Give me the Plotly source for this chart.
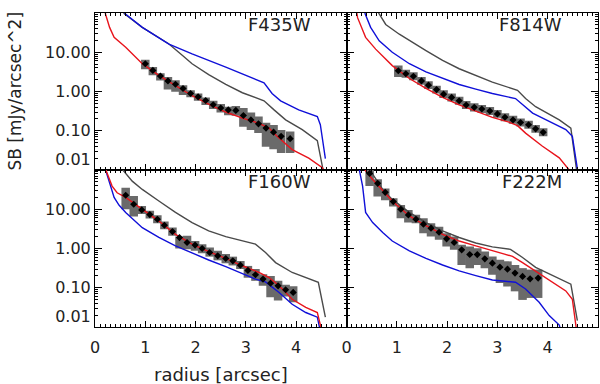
import plotly.graph_objects as go
from plotly.subplots import make_subplots

# radii of the measured points (arcsec)
r_435 = [1.0, 1.15, 1.3, 1.45, 1.6, 1.75, 1.9, 2.05, 2.2, 2.35, 2.5, 2.65, 2.8, 2.95, 3.1, 3.25, 3.4, 3.55, 3.7, 3.88]
r_814 = [1.03, 1.18, 1.33, 1.49, 1.63, 1.79, 1.93, 2.09, 2.24, 2.38, 2.54, 2.69, 2.85, 3.0, 3.15, 3.31, 3.46, 3.62, 3.76, 3.91]
r_160 = [0.61, 0.77, 0.93, 1.09, 1.24, 1.38, 1.54, 1.68, 1.83, 1.99, 2.13, 2.28, 2.44, 2.6, 2.74, 2.89, 3.04, 3.19, 3.34, 3.49, 3.64, 3.79, 3.94]
r_222 = [0.46, 0.62, 0.77, 0.93, 1.08, 1.23, 1.38, 1.53, 1.68, 1.84, 1.99, 2.14, 2.29, 2.45, 2.6, 2.75, 2.9, 3.05, 3.2, 3.35, 3.5, 3.65, 3.81]

# measured surface brightness with box limits (mJy/arcsec^2)
sb_435 = [5.08, 3.45, 2.48, 1.86, 1.53, 1.19, 0.89, 0.73, 0.59, 0.46, 0.38, 0.34, 0.33, 0.244, 0.189, 0.150, 0.117, 0.092, 0.072, 0.063]
hi_435 = [6.4, 4.2, 2.9, 2.34, 1.93, 1.44, 1.08, 0.89, 0.70, 0.58, 0.48, 0.41, 0.43, 0.38, 0.29, 0.23, 0.16, 0.14, 0.105, 0.096]
lo_435 = [3.7, 2.6, 1.9, 1.12, 0.98, 0.81, 0.71, 0.58, 0.45, 0.36, 0.29, 0.25, 0.24, 0.126, 0.105, 0.087, 0.039, 0.034, 0.027, 0.027]

sb_814 = [3.38, 2.84, 2.44, 1.86, 1.45, 1.12, 0.857, 0.706, 0.582, 0.452, 0.395, 0.359, 0.319, 0.268, 0.221, 0.189, 0.162, 0.142, 0.112, 0.091]
hi_814 = [4.6, 3.6, 3.1, 2.35, 1.83, 1.41, 1.08, 0.89, 0.73, 0.57, 0.50, 0.45, 0.40, 0.34, 0.28, 0.24, 0.205, 0.18, 0.141, 0.115]
lo_814 = [2.35, 2.25, 1.94, 1.48, 1.15, 0.89, 0.68, 0.56, 0.46, 0.36, 0.31, 0.285, 0.253, 0.213, 0.175, 0.15, 0.129, 0.113, 0.089, 0.072]

sb_160 = [22.7, 13.4, 9.6, 7.3, 5.57, 3.92, 2.70, 1.90, 1.42, 1.22, 1.0, 0.79, 0.65, 0.557, 0.486, 0.377, 0.276, 0.214, 0.166, 0.131, 0.112, 0.089, 0.076]
hi_160 = [35.5, 21.8, 12.1, 9.2, 7.0, 4.9, 3.42, 2.02, 2.1, 1.56, 1.29, 1.06, 0.87, 0.72, 0.62, 0.48, 0.36, 0.30, 0.22, 0.20, 0.15, 0.12, 0.11]
lo_160 = [10.0, 6.5, 7.6, 5.8, 4.4, 3.1, 2.1, 1.0, 0.96, 0.87, 0.76, 0.62, 0.50, 0.42, 0.37, 0.30, 0.18, 0.15, 0.112, 0.057, 0.047, 0.06, 0.043]

sb_222 = [82, 45.8, 27.0, 15.7, 10.0, 7.18, 5.57, 4.16, 3.29, 2.60, 1.76, 1.42, 0.925, 0.704, 0.70, 0.546, 0.424, 0.335, 0.298, 0.236, 0.194, 0.169, 0.176]
hi_222 = [150, 58, 34, 19, 12.9, 9.6, 7.2, 5.9, 4.4, 3.6, 2.45, 2.02, 1.24, 1.12, 1.02, 0.84, 0.63, 0.52, 0.47, 0.38, 0.316, 0.29, 0.29]
lo_222 = [39, 21, 17, 11.7, 5.9, 4.58, 4.4, 2.45, 2.02, 1.66, 1.12, 0.93, 0.38, 0.316, 0.38, 0.316, 0.214, 0.133, 0.108, 0.081, 0.049, 0.055, 0.055]

# model profiles: red, blue, gray
red_435_r = [0.18, 0.21, 0.29, 0.38, 0.61, 0.94, 1.27, 1.60, 1.93, 2.26, 2.60, 2.93, 3.26, 3.46, 3.62, 3.92, 4.25, 4.52, 4.56]
red_435_sb = [150, 93, 43, 24, 13.4, 5.1, 2.58, 1.44, 0.78, 0.48, 0.30, 0.21, 0.155, 0.117, 0.072, 0.033, 0.020, 0.0115, 0.009]
blue_435_r = [0.55, 0.60, 0.94, 1.47, 1.93, 2.60, 3.36, 3.52, 3.69, 4.05, 4.42, 4.48, 4.58]
blue_435_sb = [130, 96, 43, 16.2, 9.1, 4.2, 1.66, 0.89, 0.58, 0.34, 0.23, 0.142, 0.0195]
gray_435_r = [0.55, 0.58, 0.94, 1.47, 1.74, 1.93, 2.26, 2.60, 2.93, 3.36, 3.56, 3.79, 4.12, 4.42, 4.53, 4.56]
gray_435_sb = [130, 96, 43, 16.2, 8.3, 5.1, 2.7, 1.52, 0.93, 0.58, 0.34, 0.19, 0.107, 0.056, 0.0107, 0.008]

red_814_r = [0.18, 0.22, 0.38, 0.58, 0.91, 1.25, 1.58, 1.91, 2.24, 2.57, 2.90, 3.23, 3.40, 3.56, 3.89, 4.23, 4.42, 4.46]
red_814_sb = [158, 76, 24, 12, 4.57, 2.14, 1.2, 0.71, 0.457, 0.309, 0.219, 0.166, 0.135, 0.087, 0.041, 0.0204, 0.0107, 0.0089]
blue_814_r = [0.35, 0.37, 0.48, 0.65, 0.91, 1.25, 1.58, 1.91, 2.24, 2.57, 2.90, 3.36, 3.50, 3.70, 4.03, 4.36, 4.49, 4.59]
blue_814_sb = [158, 95, 43, 19.5, 10, 5.1, 3.16, 2.14, 1.51, 1.15, 0.89, 0.66, 0.457, 0.282, 0.174, 0.107, 0.072, 0.0107]
gray_814_r = [0.6, 0.65, 0.78, 1.05, 1.58, 1.91, 2.24, 2.57, 2.90, 3.40, 3.56, 3.76, 4.23, 4.46, 4.56, 4.58]
gray_814_sb = [126, 95, 51, 28.8, 11, 6.2, 3.8, 2.57, 1.74, 1.07, 0.66, 0.41, 0.19, 0.117, 0.0117, 0.0089]

red_160_r = [0.19, 0.21, 0.34, 0.44, 0.61, 0.94, 1.27, 1.60, 1.93, 2.26, 2.60, 2.93, 3.26, 3.46, 3.66, 3.92, 4.19, 4.42, 4.48, 4.50]
red_160_sb = [158, 105, 39, 26.3, 20, 10, 5.0, 2.29, 1.29, 0.83, 0.56, 0.363, 0.245, 0.182, 0.112, 0.051, 0.0316, 0.0234, 0.0112, 0.0089]
blue_160_r = [0.21, 0.23, 0.31, 0.38, 0.48, 0.61, 0.94, 1.27, 1.60, 1.93, 2.26, 2.60, 2.93, 3.19, 3.39, 3.66, 3.92, 4.19, 4.42, 4.45, 4.47]
blue_160_sb = [126, 83, 39, 20, 12.6, 8.3, 3.39, 1.91, 1.17, 0.76, 0.51, 0.347, 0.234, 0.166, 0.141, 0.076, 0.038, 0.0234, 0.0178, 0.0112, 0.0089]
gray_160_r = [0.5, 0.54, 0.74, 0.94, 1.27, 1.60, 1.93, 2.26, 2.60, 2.93, 3.19, 3.39, 3.59, 3.92, 4.25, 4.44, 4.58]
gray_160_sb = [126, 105, 52, 32, 16.2, 8.3, 4.57, 2.82, 2.0, 1.55, 1.29, 0.79, 0.437, 0.245, 0.166, 0.138, 0.0178]

red_222_r = [0.32, 0.35, 0.52, 0.72, 0.91, 1.25, 1.58, 1.91, 2.24, 2.57, 2.90, 3.30, 3.50, 3.70, 4.03, 4.36, 4.49, 4.56, 4.57]
red_222_sb = [158, 107, 57.5, 29.5, 16.2, 6.76, 3.8, 2.29, 1.55, 1.17, 0.87, 0.63, 0.437, 0.295, 0.151, 0.083, 0.051, 0.0112, 0.0089]
blue_222_r = [0.24, 0.25, 0.32, 0.38, 0.52, 0.72, 0.91, 1.25, 1.58, 1.91, 2.24, 2.57, 2.90, 3.36, 3.56, 3.83, 4.03, 4.23, 4.25]
blue_222_sb = [126, 107, 39, 8.3, 4.57, 2.57, 1.55, 0.87, 0.56, 0.38, 0.269, 0.204, 0.158, 0.138, 0.093, 0.0427, 0.0195, 0.0112, 0.0089]
gray_222_r = [0.42, 0.45, 0.72, 0.91, 1.25, 1.58, 1.91, 2.24, 2.57, 2.90, 3.26, 3.50, 3.76, 4.09, 4.46, 4.59]
gray_222_sb = [158, 107, 32, 17.8, 8.3, 4.57, 2.82, 1.91, 1.38, 1.10, 0.95, 0.59, 0.331, 0.204, 0.123, 0.0145]

filters = ['F435W', 'F814W', 'F160W', 'F222M']
ytickvals = [0.01, 0.1, 1, 10]
yticktext = ['0.01<br> ', '0.10', '1.00', '10.00']
xtickvals = [0, 1, 2, 3, 4]

RED = '#e8141c'
BLUE = '#1010d8'
GRAY = '#4a4a4a'
BOX = '#6a6a6a'
FONT = 'DejaVu Sans'

panels = [
    (1, 1, r_435, sb_435, lo_435, hi_435, (red_435_r, red_435_sb), (blue_435_r, blue_435_sb), (gray_435_r, gray_435_sb)),
    (1, 2, r_814, sb_814, lo_814, hi_814, (red_814_r, red_814_sb), (blue_814_r, blue_814_sb), (gray_814_r, gray_814_sb)),
    (2, 1, r_160, sb_160, lo_160, hi_160, (red_160_r, red_160_sb), (blue_160_r, blue_160_sb), (gray_160_r, gray_160_sb)),
    (2, 2, r_222, sb_222, lo_222, hi_222, (red_222_r, red_222_sb), (blue_222_r, blue_222_sb), (gray_222_r, gray_222_sb)),
]

fig = make_subplots(rows=2, cols=2, horizontal_spacing=0, vertical_spacing=0)

for row, col, r, sb, lo, hi, red, blue, gray in panels:
    # gray boxes as thick error bars
    fig.add_trace(go.Scatter(
        x=r, y=sb, mode='markers', marker=dict(size=1, opacity=0),
        error_y=dict(type='data', symmetric=False,
                     array=[h - s for h, s in zip(hi, sb)],
                     arrayminus=[s - l for s, l in zip(sb, lo)],
                     thickness=8.5, width=0, color=BOX),
        showlegend=False, hoverinfo='skip'), row=row, col=col)
    for (cr, csb), c in [(gray, GRAY), (blue, BLUE), (red, RED)]:
        fig.add_trace(go.Scatter(x=cr, y=csb, mode='lines', line=dict(color=c, width=1.4),
                                 showlegend=False), row=row, col=col)
    fig.add_trace(go.Scatter(x=r, y=sb, mode='markers',
                             marker=dict(symbol='diamond', size=5.5, color='black'),
                             showlegend=False), row=row, col=col)

axis_common = dict(showline=True, linecolor='black', linewidth=1, mirror='ticks',
                   ticks='inside', tickcolor='black', showgrid=False, zeroline=False,
                   tickfont=dict(family=FONT, size=16, color='#222'))

for i in range(1, 5):
    row = 1 if i <= 2 else 2
    col = 1 if i % 2 == 1 else 2
    fig.update_xaxes(range=[0, 5], tickvals=xtickvals, ticklen=6, ticklabelstandoff=6,
                     minor=dict(ticks='inside', ticklen=3, dtick=0.1, tickcolor='black', showgrid=False),
                     showticklabels=(row == 2), **axis_common, row=row, col=col)
    fig.update_yaxes(type='log', range=[-2, 2], tickvals=ytickvals, ticktext=yticktext, ticklen=7,
                     minor=dict(ticks='inside', ticklen=3, dtick='D1', tickcolor='black', showgrid=False),
                     showticklabels=(col == 1), **axis_common, row=row, col=col)

annotations = []
for i, name in enumerate(filters):
    suffix = '' if i == 0 else str(i + 1)
    annotations.append(dict(text=name, xref='x%s domain' % suffix, yref='y%s domain' % suffix,
                            x=0.865, y=0.925, xanchor='right', yanchor='middle', showarrow=False,
                            font=dict(family=FONT, size=18, color='#222')))
annotations.append(dict(text='SB [mJy/arcsec^2]', xref='paper', yref='y domain', x=-0.161, y=0.5,
                        xanchor='center', yanchor='middle', textangle=-90, showarrow=False,
                        font=dict(family=FONT, size=17, color='#222')))
annotations.append(dict(text='radius [arcsec]', xref='x3 domain', yref='paper', x=0.5, y=-0.15,
                        xanchor='center', yanchor='middle', showarrow=False,
                        font=dict(family=FONT, size=18, color='#222')))

fig.update_layout(width=600, height=384, margin=dict(l=95, r=2, t=13, b=57, autoexpand=False),
                  plot_bgcolor='white', paper_bgcolor='white', annotations=annotations)

fig.write_html("out.html", config={'displayModeBar': False},
               post_script="document.body.style.margin='0';")
